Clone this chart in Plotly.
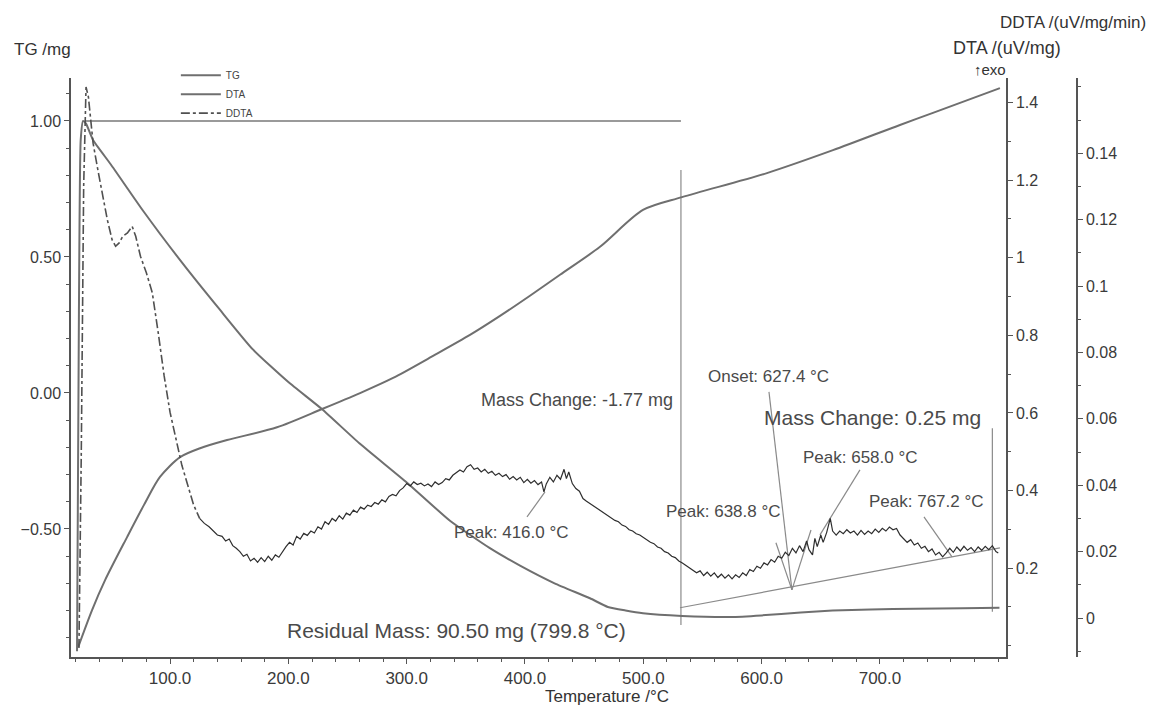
import plotly.graph_objects as go

# ---------------- data ----------------
tg_T = [21.4, 23.0, 24.5, 26.5, 29, 34.9, 50, 77.2, 110, 142.3, 170, 200, 228.5, 260,
        300.3, 336.6, 370, 395.8, 425, 454.9, 470, 485, 499.7, 532.7, 574, 600, 633,
        660, 692, 730, 770, 801]
tg_mg = [-0.95, 0.30, 0.93, 1.00, 0.99, 0.93, 0.84, 0.67, 0.48, 0.305, 0.16, 0.04, -0.06,
         -0.185, -0.33, -0.47, -0.57, -0.635, -0.70, -0.755, -0.787, -0.80, -0.81, -0.82,
         -0.824, -0.818, -0.807, -0.80, -0.796, -0.794, -0.792, -0.790]

dta_T = [22.3, 34.1, 45.1, 63.7, 78.0, 91.5, 108.5, 125.4, 148.2, 190.4, 228.5, 260.6, 288.5,
         322.3, 353.5, 378.9, 404.2, 429.6, 463.4, 499.7, 532.7, 604.5, 660.3, 716.9,
         744.8, 801.4]
dta_uV = [-0.004, 0.092, 0.169, 0.280, 0.363, 0.435, 0.486, 0.509, 0.530, 0.563, 0.610, 0.651,
          0.690, 0.747, 0.801, 0.850, 0.902, 0.956, 1.028, 1.123, 1.156, 1.218, 1.277,
          1.342, 1.373, 1.437]

ddta_T = [23, 25, 27, 29, 31, 33, 35, 39, 43, 47, 51, 54, 57, 60, 64, 68, 71, 75, 80, 85,
          90, 95, 100, 105, 110, 115, 120, 125,
          129, 133, 137, 140, 144, 147, 150, 153, 156, 159, 162, 165, 168, 171, 174, 177,
          180, 183, 186, 189, 192, 195, 198, 201, 204, 207, 210, 213, 216, 219, 222, 225,
          228, 231, 234, 237, 240, 243, 246, 249, 252, 255, 258, 261, 264, 267, 270, 273,
          276, 279, 282, 285, 288, 291, 294, 297, 300, 303, 306, 309, 312, 315, 318, 321,
          324, 327, 330, 333, 336, 339, 342, 345, 348, 351, 354, 357, 360, 363, 366, 369,
          372, 375, 378, 381, 384, 387, 390, 393, 396, 399, 402, 405, 408, 411, 414, 416,
          418, 421, 424, 427, 430, 433, 435, 437, 440, 443, 446, 449, 452, 455, 458, 461,
          464, 467, 470, 473, 476, 479, 482, 485, 488, 491, 494, 497, 500, 503, 506, 509,
          512, 515, 518, 521, 524, 527, 530, 533, 536, 539, 542, 545, 548, 551, 554, 557,
          560, 563, 566, 569, 572, 575, 578, 581, 584, 587, 590, 593, 596, 599, 602, 605,
          608, 611, 614, 617, 620, 623, 626, 629, 632, 635, 638, 640, 643, 645, 647, 650,
          652, 655, 658, 660, 663, 666, 669, 672, 675, 678, 681, 684, 687, 690, 693, 696,
          699, 702, 705, 708, 711, 714, 717, 720, 723, 726, 729, 732, 735, 738, 741, 744,
          747, 750, 753, 756, 759, 762, 765, 768, 771, 774, 777, 780, 783, 786, 789, 792,
          795, 798, 800]
ddta_val = [-0.009, 0.05, 0.13, 0.160, 0.157, 0.150, 0.143, 0.135, 0.127, 0.120, 0.114, 0.112,
            0.113, 0.115, 0.116, 0.118, 0.115, 0.109, 0.104, 0.098, 0.086, 0.073, 0.062, 0.054,
            0.046, 0.040, 0.034, 0.0300,
            0.0285, 0.0275, 0.0262, 0.0250, 0.0246, 0.0232, 0.0238, 0.0218, 0.0210, 0.0200,
            0.0186, 0.0192, 0.0172, 0.0180, 0.0168, 0.0182, 0.0170, 0.0186, 0.0174, 0.0190,
            0.0183, 0.0200, 0.0215, 0.0228, 0.0220, 0.0246, 0.0238, 0.0255, 0.0249, 0.0262,
            0.0256, 0.0275, 0.0268, 0.0290, 0.0282, 0.0300, 0.0292, 0.0308, 0.0298, 0.0316,
            0.0310, 0.0325, 0.0318, 0.0334, 0.0328, 0.0340, 0.0336, 0.0348, 0.0343, 0.0356,
            0.0350, 0.0366, 0.0372, 0.0368, 0.0384, 0.0392, 0.0405, 0.0398, 0.0410, 0.0402,
            0.0406, 0.0398, 0.0404, 0.0396, 0.0410, 0.0402, 0.0408, 0.0420, 0.0416, 0.0430,
            0.0438, 0.0446, 0.0440, 0.0456, 0.0462, 0.0448, 0.0452, 0.0440, 0.0448, 0.0436,
            0.0442, 0.0430, 0.0436, 0.0426, 0.0432, 0.0418, 0.0426, 0.0416, 0.0424, 0.0408,
            0.0418, 0.0406, 0.0414, 0.0402, 0.0410, 0.0380, 0.0404, 0.0424, 0.0410, 0.0430,
            0.0418, 0.0448, 0.0420, 0.0440, 0.0405, 0.0390, 0.0382, 0.0360, 0.0352, 0.0345,
            0.0336, 0.0330, 0.0324, 0.0315, 0.0308, 0.0302, 0.0294, 0.0290, 0.0280, 0.0276,
            0.0266, 0.0262, 0.0254, 0.0250, 0.0242, 0.0236, 0.0228, 0.0224, 0.0214, 0.0210,
            0.0200, 0.0196, 0.0186, 0.0182, 0.0172, 0.0166, 0.0158, 0.0150, 0.0142, 0.0136,
            0.0142, 0.0128, 0.0138, 0.0126, 0.0136, 0.0122, 0.0132, 0.0120, 0.0130, 0.0118,
            0.0130, 0.0122, 0.0136, 0.0128, 0.0146, 0.0140, 0.0156, 0.0150, 0.0166, 0.0160,
            0.0176, 0.0168, 0.0186, 0.0180, 0.0198, 0.0188, 0.0210, 0.0196, 0.0218, 0.0200,
            0.0232, 0.0206, 0.0190, 0.0240, 0.0215, 0.0250, 0.0228, 0.0258, 0.0300, 0.0262,
            0.0250, 0.0262, 0.0254, 0.0266, 0.0256, 0.0262, 0.0250, 0.0264, 0.0252, 0.0262,
            0.0254, 0.0268, 0.0258, 0.0270, 0.0262, 0.0274, 0.0266, 0.0270, 0.0250, 0.0240,
            0.0228, 0.0236, 0.0220, 0.0226, 0.0210, 0.0216, 0.0200, 0.0208, 0.0190, 0.0198,
            0.0184, 0.0196, 0.0210, 0.0198, 0.0214, 0.0202, 0.0216, 0.0204, 0.0212, 0.0200,
            0.0214, 0.0204, 0.0216, 0.0206, 0.0218, 0.0200, 0.0196]
DDTA_SPLIT_T = 125  # dash-dot part before, noisy solid part after

x_ticks = [100, 200, 300, 400, 500, 600, 700]
tg_ticks = [-0.5, 0.0, 0.5, 1.0]
dta_ticks = [0.2, 0.4, 0.6, 0.8, 1.0, 1.2, 1.4]
dta_tick_text = ["0.2", "0.4", "0.6", "0.8", "1", "1.2", "1.4"]
ddta_ticks = [0, 0.02, 0.04, 0.06, 0.08, 0.1, 0.12, 0.14]
ddta_tick_text = ["0", "0.02", "0.04", "0.06", "0.08", "0.1", "0.12", "0.14"]

# evaluation markers (TG-axis coordinates)
mass_step_T = 531.8
tg_start_level = 1.00
tg_start_T = 28
# leader / evaluation lines (T0, tg0, T1, tg1)
leader_lines = [
    (531.8, 0.82, 531.8, -0.853),
    (401.7, -0.456, 416.9, -0.364),
    (606.2, 0.004, 625.6, -0.724),
    (612.1, -0.551, 625.6, -0.724),
    (625.6, -0.724, 641.7, -0.504),
    (683.1, -0.283, 649.3, -0.522),
    (737.2, -0.456, 760.9, -0.603),
    (531.0, -0.79, 801.4, -0.57),
    (795.0, -0.13, 795.0, -0.805),
]

GRAY = "#6f6f6f"
TXT = "#4a4a4a"
FONT = "Liberation Sans, Arial, sans-serif"

fig = go.Figure()
fig.add_trace(go.Scatter(x=tg_T, y=tg_mg, mode="lines", name="TG",
                         line=dict(color=GRAY, width=2, shape="spline", smoothing=0.5),
                         yaxis="y"))
fig.add_trace(go.Scatter(x=dta_T, y=dta_uV, mode="lines", name="DTA",
                         line=dict(color=GRAY, width=2, shape="spline", smoothing=0.8),
                         yaxis="y2"))
i_split = ddta_T.index(DDTA_SPLIT_T)
fig.add_trace(go.Scatter(x=ddta_T[:i_split + 1], y=ddta_val[:i_split + 1], mode="lines",
                         name="DDTA", line=dict(color="#505050", width=1.6, dash="dashdot"),
                         yaxis="y3"))
fig.add_trace(go.Scatter(x=ddta_T[i_split:], y=ddta_val[i_split:], mode="lines",
                         name="DDTA", showlegend=False,
                         line=dict(color="#2e2e2e", width=1.2), yaxis="y3"))

for (a0, b0, a1, b1) in leader_lines:
    fig.add_shape(type="line", x0=a0, y0=b0, x1=a1, y1=b1, xref="x", yref="y",
                  line=dict(color="#8a8a8a", width=1.2), layer="below")
fig.add_shape(type="line", x0=tg_start_T, y0=tg_start_level, x1=mass_step_T, y1=tg_start_level,
              xref="x", yref="y", line=dict(color="#9a9a9a", width=2), layer="below")


def txt(x, y, s, size, xanchor="left", xref="x", yref="y", color=TXT, yanchor="middle"):
    fig.add_annotation(x=x, y=y, text=s, showarrow=False, xref=xref, yref=yref,
                       xanchor=xanchor, yanchor=yanchor,
                       font=dict(family=FONT, size=size, color=color))


txt(526.8, -0.026, "Mass Change: -1.77 mg", 18, xanchor="right")
txt(553, 0.059, "Onset: 627.4 °C", 17)
txt(600.3, -0.092, "Mass Change: 0.25 mg", 21)
txt(633.3, -0.239, "Peak: 658.0 °C", 17)
txt(517.5, -0.4375, "Peak: 638.8 °C", 17)
txt(689, -0.40, "Peak: 767.2 °C", 17)
txt(338.3, -0.515, "Peak: 416.0 °C", 17)
txt(342.5, -0.875, "Residual Mass: 90.50 mg (799.8 °C)", 21, xanchor="center")

# axis titles (paper coordinates)
txt(-0.0551, 1.050, "TG /mg", 17, xref="paper", yref="paper", color="#333")
txt(0.927, 1.052, "DTA /(uV/mg)", 18, xanchor="right", xref="paper", yref="paper", color="#333")
txt(1.0065, 1.095, "DDTA /(uV/mg/min)", 17, xanchor="right", xref="paper", yref="paper",
    color="#333")
txt(0.859, 1.014, "↑exo", 15, xanchor="center", xref="paper", yref="paper", color="#333")
txt(0.501, -0.069, "Temperature /°C", 17, xanchor="center", xref="paper", yref="paper",
    color="#333")

axis_common = dict(showgrid=False, zeroline=False, showline=True, linecolor="#555",
                   linewidth=1.5, ticks="outside", ticklen=5, tickcolor="#555",
                   automargin=False)
tick_font = dict(family=FONT, size=16, color="#3a3a3a")

fig.update_layout(
    width=1151, height=707,
    margin=dict(l=71, r=10, t=78, b=50, autoexpand=False),
    paper_bgcolor="white", plot_bgcolor="white",
    font=dict(family=FONT),
    xaxis=dict(domain=[0, 0.8738], range=[16.3, 806.5], tickvals=x_ticks,
               tickformat=".1f", tickfont=dict(family=FONT, size=17, color="#3a3a3a"),
               minor=dict(dtick=20, tick0=0, ticks="outside", ticklen=3, tickcolor="#555"),
               **axis_common),
    yaxis=dict(range=[-0.971, 1.158], tickvals=tg_ticks, tickformat=".2f", tickfont=tick_font,
               minor=dict(dtick=0.1, tick0=0, ticks="outside", ticklen=3, tickcolor="#555"),
               **axis_common),
    yaxis2=dict(range=[-0.029, 1.463], overlaying="y", side="right", anchor="x",
                tickvals=dta_ticks, ticktext=dta_tick_text, tickfont=tick_font,
                minor=dict(dtick=0.1, tick0=0, ticks="outside", ticklen=3, tickcolor="#555"),
                **axis_common),
    yaxis3=dict(range=[-0.01175, 0.1627], overlaying="y", side="right", anchor="free",
                position=0.9402, tickvals=ddta_ticks, ticktext=ddta_tick_text,
                tickfont=tick_font,
                minor=dict(dtick=0.01, tick0=0, ticks="outside", ticklen=3, tickcolor="#555"),
                **axis_common),
    legend=dict(x=0.098, y=1.03, xanchor="left", yanchor="top", bgcolor="rgba(0,0,0,0)",
                font=dict(family=FONT, size=10, color="#444"), itemwidth=40,
                tracegroupgap=0),
    showlegend=True,
)

fig.write_html("out.html")
